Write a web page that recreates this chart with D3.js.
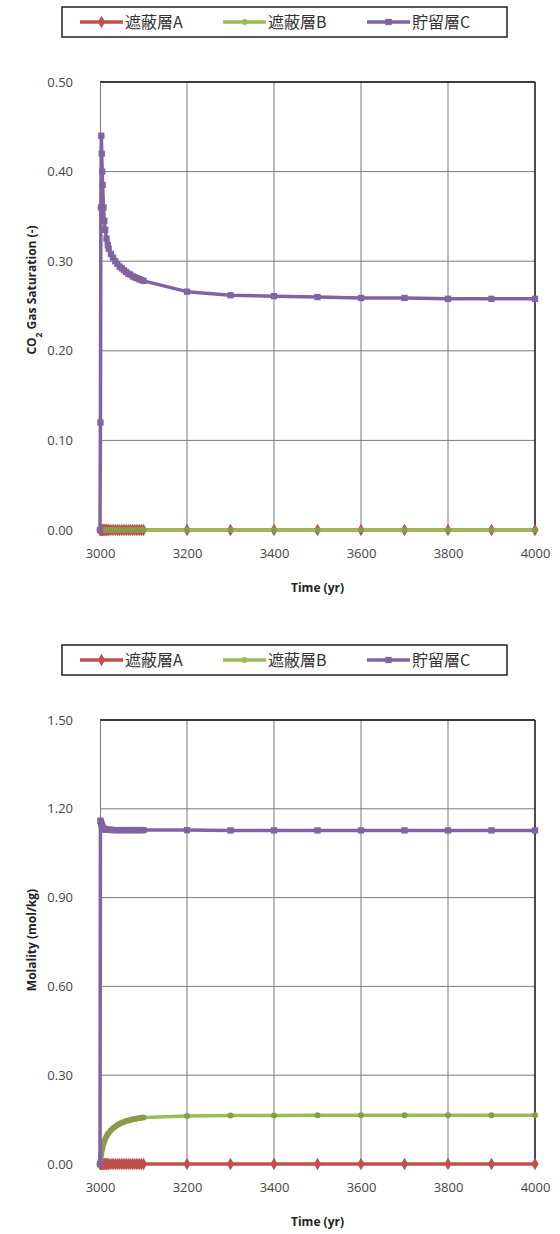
<!DOCTYPE html>
<html><head><meta charset="utf-8">
<script src="https://cdn.jsdelivr.net/npm/d3@7"></script>
<style>body{margin:0;background:#fff}svg{display:block}</style>
</head><body>
<svg id="c" width="560" height="1234"></svg>
<script>
const seriesNames = ["遮蔽層A", "遮蔽層B", "貯留層C"];
const years = [3000,3001,3002,3003,3004,3005,3006,3008,3010,3012,3015,3018,3020,3025,3030,3035,3040,3045,3050,3055,3060,3065,3070,3075,3080,3085,3090,3095,3100,3200,3300,3400,3500,3600,3700,3800,3900,4000];
const xTicks = [3000,3200,3400,3600,3800,4000];

// Chart 1: CO2 gas saturation
const satA = [0,0,0,0,0,0,0,0,0,0,0,0,0,0,0,0,0,0,0,0,0,0,0,0,0,0,0,0,0,0,0,0,0,0,0,0,0,0];
const satB = [0,0,0,0,0,0,0,0,0,0,0,0,0,0,0,0,0,0,0,0,0,0,0,0,0,0,0,0,0,0,0,0,0,0,0,0,0,0];
const satC = [0,0.12,0.36,0.44,0.42,0.40,0.385,0.36,0.345,0.335,0.325,0.318,0.314,0.308,0.304,0.300,0.297,0.294,0.292,0.290,0.288,0.286,0.285,0.283,0.282,0.281,0.280,0.279,0.278,0.266,0.262,0.261,0.260,0.259,0.259,0.258,0.258,0.258];
const satTicks = [0,0.1,0.2,0.3,0.4,0.5];

// Chart 2: molality
const molA = [0,0,0,0,0,0,0,0,0,0,0,0,0,0,0,0,0,0,0,0,0,0,0,0,0,0,0,0,0,0,0,0,0,0,0,0,0,0];
const molB = [0,0.010,0.025,0.035,0.045,0.052,0.058,0.068,0.077,0.085,0.094,0.101,0.105,0.114,0.121,0.127,0.132,0.136,0.139,0.142,0.145,0.147,0.149,0.151,0.152,0.154,0.155,0.156,0.157,0.162,0.164,0.164,0.165,0.165,0.165,0.165,0.165,0.165];
const molC = [0,1.16,1.155,1.15,1.145,1.14,1.137,1.133,1.131,1.130,1.130,1.129,1.129,1.129,1.128,1.128,1.128,1.128,1.128,1.128,1.128,1.128,1.128,1.128,1.128,1.128,1.128,1.128,1.128,1.128,1.127,1.127,1.127,1.127,1.127,1.127,1.127,1.127];
const molTicks = [0,0.3,0.6,0.9,1.2,1.5];

const colors = ["#c0504d", "#9bbb59", "#8064a2"];
const markerTypes = [d3.symbolDiamond, d3.symbolCircle, d3.symbolSquare];
const markerSizes = [45, 28, 40];

const svg = d3.select("#c");
const fontNum = "'Open Sans', 'DejaVu Sans', sans-serif";
const fontCJK = "'Noto Sans CJK JP', 'Noto Sans', sans-serif";

function drawLegend(y0) {
  const g = svg.append("g");
  g.append("rect").attr("x", 62).attr("y", y0).attr("width", 445).attr("height", 30)
    .attr("fill", "#fff").attr("stroke", "#222").attr("stroke-width", 1.5);
  const items = [{x: 80}, {x: 223}, {x: 367}];
  items.forEach((it, i) => {
    const cy = y0 + 15;
    g.append("line").attr("x1", it.x).attr("x2", it.x + 43).attr("y1", cy).attr("y2", cy)
      .attr("stroke", colors[i]).attr("stroke-width", 3.5);
    g.append("path").attr("d", d3.symbol().type(markerTypes[i]).size(markerSizes[i])())
      .attr("transform", `translate(${it.x + 21.5},${cy})`).attr("fill", colors[i]);
    g.append("text").attr("x", it.x + 45).attr("y", cy).attr("dy", "0.36em")
      .attr("font-family", fontCJK).attr("font-size", 16).attr("fill", "#333")
      .text(seriesNames[i]);
  });
}

function drawChart(opts) {
  const {top, bottom, yMax, yTicks, series, yTitle, yTitleSub, yTitleRest} = opts;
  const left = 100, right = 535;
  const x = d3.scaleLinear().domain([3000, 4000]).range([left, right]);
  const y = d3.scaleLinear().domain([0, yMax]).range([bottom, top]);
  const g = svg.append("g");

  // gridlines
  g.append("g").selectAll("line").data(yTicks.filter(t => t > 0)).join("line")
    .attr("x1", left).attr("x2", right).attr("y1", d => y(d)).attr("y2", d => y(d))
    .attr("stroke", "#7a7a7a").attr("stroke-width", 1);
  g.append("g").selectAll("line").data(xTicks.filter(t => t > 3000 && t < 4000)).join("line")
    .attr("x1", d => x(d)).attr("x2", d => x(d)).attr("y1", top).attr("y2", bottom)
    .attr("stroke", "#7a7a7a").attr("stroke-width", 1);
  // plot border top/right
  g.append("line").attr("x1", left).attr("x2", right).attr("y1", top).attr("y2", top)
    .attr("stroke", "#111").attr("stroke-width", 1.5);
  g.append("line").attr("x1", right).attr("x2", right).attr("y1", top).attr("y2", bottom)
    .attr("stroke", "#111").attr("stroke-width", 1.5);

  // axes
  const ya = d3.axisLeft(y).tickValues(yTicks).tickFormat(d3.format(".2f")).tickSize(0).tickPadding(27);
  const yg = g.append("g").attr("transform", `translate(${left},0)`).call(ya);
  yg.select(".domain").attr("stroke", "#7a7a7a");
  yg.selectAll("text").attr("font-family", fontNum).attr("font-size", 13).attr("fill", "#444");
  const xa = d3.axisBottom(x).tickValues(xTicks).tickFormat(d3.format("d")).tickSize(0).tickPadding(19);
  const xg = g.append("g").attr("transform", `translate(0,${bottom})`).call(xa);
  xg.select(".domain").attr("stroke", "#7a7a7a");
  xg.selectAll("text").attr("font-family", fontNum).attr("font-size", 13).attr("fill", "#444");

  // titles
  g.append("text").attr("x", (left + right) / 2).attr("y", bottom + 58).attr("dy", "0.35em")
    .attr("text-anchor", "middle").attr("font-family", fontNum).attr("font-weight", "bold")
    .attr("font-size", 12).attr("fill", "#222").text("Time (yr)");
  const yt = g.append("text").attr("transform", `translate(32,${opts.yTitleY}) rotate(-90)`)
    .attr("text-anchor", "middle").attr("dy", "0.35em").attr("font-family", fontNum)
    .attr("font-weight", "bold").attr("font-size", 12).attr("fill", "#222");
  yt.append("tspan").text(yTitle);
  if (yTitleSub) {
    yt.append("tspan").attr("baseline-shift", "sub").attr("font-size", 8.5).text(yTitleSub);
    yt.append("tspan").text(yTitleRest);
  }

  // series
  const line = d3.line().x((d, i) => x(years[i])).y(d => y(d));
  series.forEach((vals, si) => {
    g.append("path").datum(vals).attr("d", line).attr("fill", "none")
      .attr("stroke", colors[si]).attr("stroke-width", 3.5).attr("stroke-linejoin", "round");
    g.append("g").selectAll("path").data(vals).join("path")
      .attr("d", d3.symbol().type(markerTypes[si]).size(markerSizes[si])())
      .attr("transform", (d, i) => `translate(${x(years[i])},${y(d)})`)
      .attr("fill", si === 1 ? "#8a9a48" : colors[si]);
  });
}

drawLegend(7);
drawChart({top: 82, bottom: 530, yMax: 0.5, yTicks: satTicks, series: [satA, satB, satC],
  yTitle: "CO", yTitleSub: "2", yTitleRest: " Gas Saturation (-)", yTitleY: 290});
drawLegend(645);
drawChart({top: 720, bottom: 1164, yMax: 1.5, yTicks: molTicks, series: [molA, molB, molC],
  yTitle: "Molality (mol/kg)", yTitleY: 940});
</script>
</body></html>
